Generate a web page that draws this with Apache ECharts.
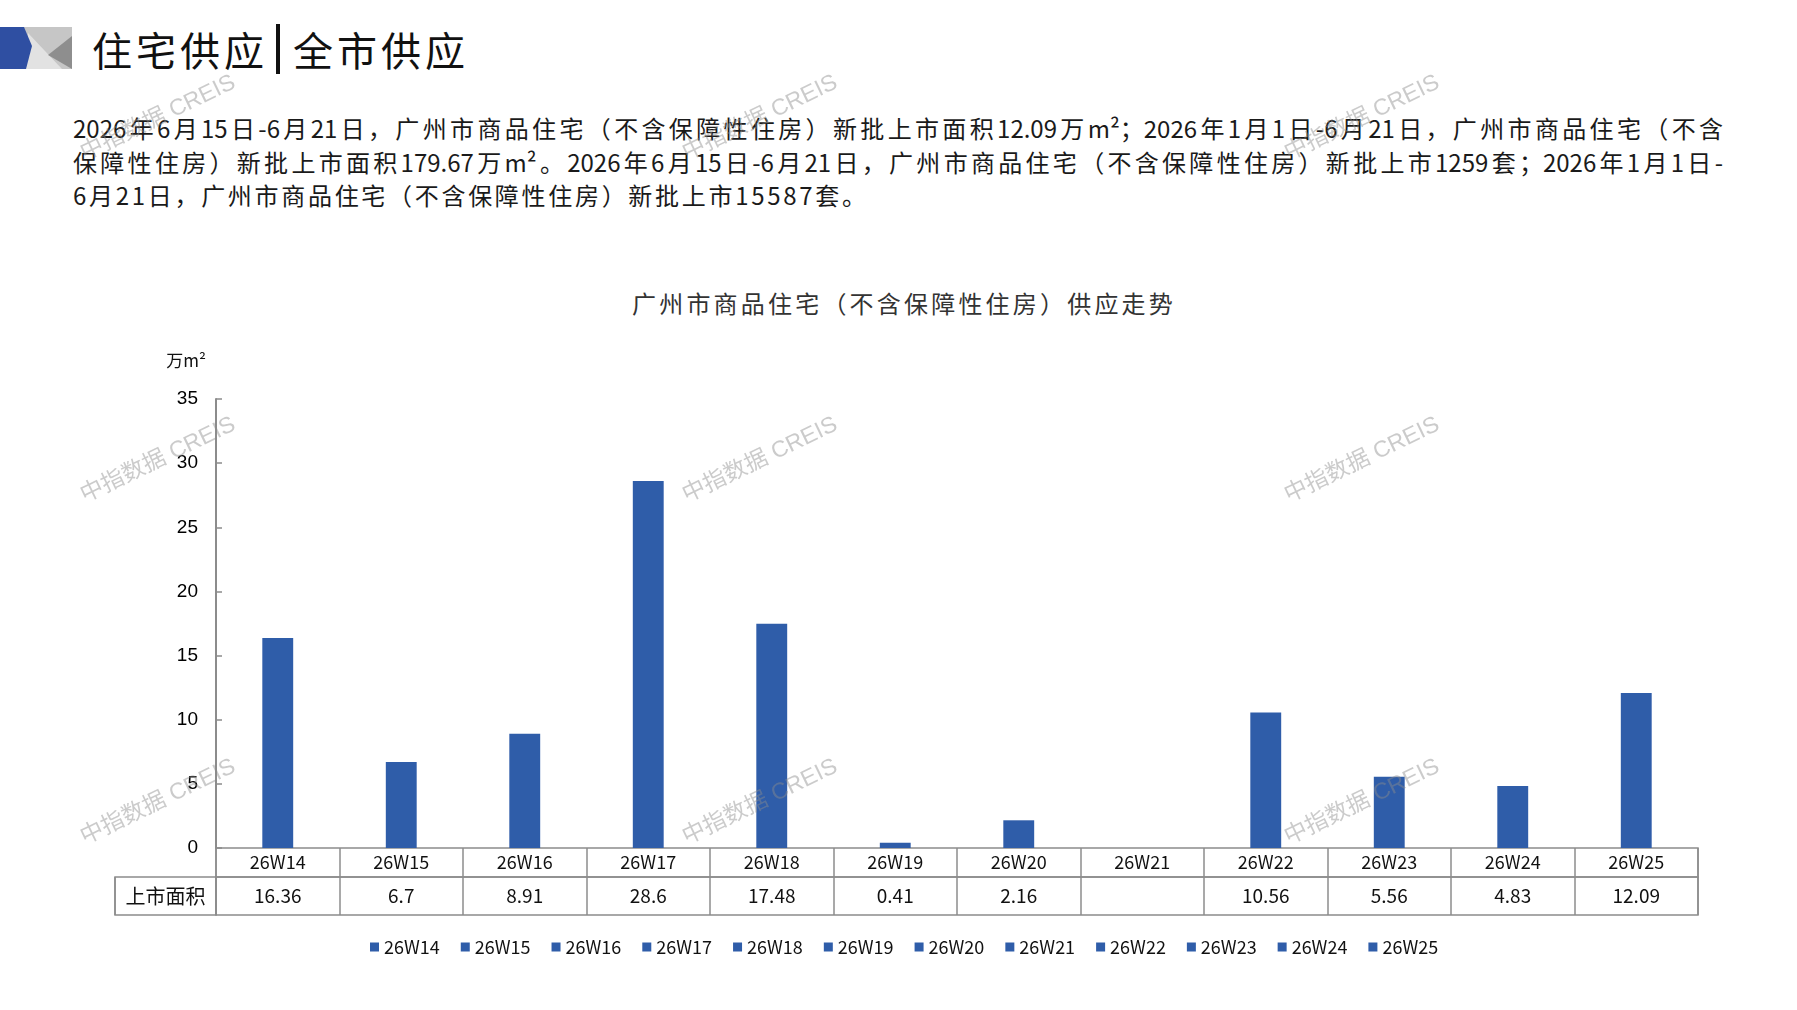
<!DOCTYPE html>
<html>
<head>
<meta charset="utf-8">
<title>住宅供应|全市供应</title>
<script src="https://cdn.jsdelivr.net/npm/echarts@6/dist/echarts.min.js"></script>
<style>
  html, body { margin: 0; padding: 0; background: #fff; }
  body { width: 1797px; height: 1010px; position: relative; overflow: hidden;
         font-family: "Noto Sans CJK SC", "Noto Sans", sans-serif; color: #1a1a1a; }
  #head { position: absolute; left: 92px; top: 24px; height: 50px; line-height: 50px;
          font-size: 40px; letter-spacing: 4px; color: #111; white-space: nowrap; z-index: 1; }
  #head .bar { display: inline-block; width: 4px; height: 50px; background: #111;
               vertical-align: top; margin: 0 13px 0 8px; }
  .line { position: absolute; left: 73px; width: 1650px; font-size: 24px; line-height: 34px;
          height: 34px; overflow: hidden; z-index: 1; }
  .just { text-align: justify; text-align-last: justify; }
  .last { letter-spacing: 2.7px; }
  #ctitle { position: absolute; left: 904px; top: 287px; transform: translateX(-50%);
            font-size: 24px; line-height: 32px; letter-spacing: 3.2px; color: #333;
            white-space: nowrap; z-index: 1; }
  #chart { position: absolute; left: 0; top: 0; width: 1797px; height: 1010px; z-index: 2; }
</style>
</head>
<body>
<div id="head">住宅供应<span class="bar"></span>全市供应</div>
<div class="line just" style="top:111px">2026年6月15日-6月21日，广州市商品住宅（不含保障性住房）新批上市面积12.09万m²；2026年1月1日-6月21日，广州市商品住宅（不含</div>
<div class="line just" style="top:145px">保障性住房）新批上市面积179.67万m²。2026年6月15日-6月21日，广州市商品住宅（不含保障性住房）新批上市1259套；2026年1月1日-</div>
<div class="line last" style="top:178px">6月21日，广州市商品住宅（不含保障性住房）新批上市15587套。</div>
<div id="ctitle">广州市商品住宅（不含保障性住房）供应走势</div>
<div id="chart"></div>
<script>
// 周次
var categories = ['26W14', '26W15', '26W16', '26W17', '26W18', '26W19',
                  '26W20', '26W21', '26W22', '26W23', '26W24', '26W25'];
// 上市面积（万m²），26W21 无数据
var areaValues = [16.36, 6.7, 8.91, 28.6, 17.48, 0.41, 2.16, null, 10.56, 5.56, 4.83, 12.09];
var rowLabel = '上市面积';
var yUnit = '万m²';

var barColor = '#2f5da9';
var lineColor = '#8c8c8c';
var cjk = '"Noto Sans CJK SC", "Noto Sans", sans-serif';

var chart = echarts.init(document.getElementById('chart'));

// 每周一个系列，这样图例能列出每个周次
var series = categories.map(function (name, i) {
  return {
    name: name,
    type: 'bar',
    stack: 'week',
    xAxisIndex: 0,
    yAxisIndex: 0,
    barWidth: '25%',
    itemStyle: { color: barColor },
    data: categories.map(function (c, j) {
      return (j === i && areaValues[i] != null) ? areaValues[i] : '-';
    })
  };
});

// 表格行的坐标轴
function tableAxis(grid, data, size, margin, formatter) {
  return {
    gridIndex: grid,
    type: 'category',
    data: data,
    axisLine: { show: false },
    axisTick: { show: false },
    splitLine: { show: true, interval: 0, lineStyle: { color: lineColor, width: 1.5 } },
    axisLabel: {
      inside: true, interval: 0, margin: margin, verticalAlign: 'middle',
      fontSize: size, color: '#111', fontFamily: cjk,
      formatter: formatter
    }
  };
}

var cellBorder = { show: true, borderColor: lineColor, borderWidth: 1.5 };

// 水印
var wmCols = [158, 760, 1362];
var wmRows = [118, 460, 802];
var graphics = [
  { type: 'polygon', z: 1, shape: { points: [[24, 27], [72, 27], [72, 69], [24, 69]] }, style: { fill: '#c6c6c6' } },
  { type: 'polygon', z: 2, shape: { points: [[28, 33], [62, 69], [26, 69]] }, style: { fill: '#e2e2e2' } },
  { type: 'polygon', z: 2, shape: { points: [[72, 36], [72, 69], [48, 55]] }, style: { fill: '#8e8e8e' } },
  { type: 'polygon', z: 3, shape: { points: [[0, 27], [24, 27], [32, 46], [26, 69], [0, 69]] }, style: { fill: '#2f4fa2' } }
];
wmRows.forEach(function (y) {
  wmCols.forEach(function (x) {
    graphics.push({
      type: 'text', x: x, y: y, rotation: 0.45, z: 100, zlevel: 1, silent: true,
      style: {
        text: '中指数据 CREIS', x: 0, y: 0,
        textAlign: 'center', textVerticalAlign: 'middle', align: 'center', verticalAlign: 'middle',
        fill: 'rgba(140,140,140,0.45)',
        font: '23px "Liberation Sans", "Noto Sans CJK SC", sans-serif'
      }
    });
  });
});

var option = {
  backgroundColor: 'transparent',
  animation: false,
  graphic: graphics,
  legend: {
    data: categories,
    left: 370,
    top: 938,
    padding: 0,
    icon: 'rect',
    itemWidth: 9,
    itemHeight: 9,
    itemGap: 21,
    textStyle: { fontSize: 18, color: '#111', fontFamily: cjk }
  },
  grid: [
    { left: 216, right: 99, top: 399, height: 449 },
    Object.assign({ left: 216, right: 99, top: 848, height: 29 }, cellBorder),
    Object.assign({ left: 216, right: 99, top: 877, height: 38 }, cellBorder),
    Object.assign({ left: 115, width: 101, top: 877, height: 38 }, cellBorder)
  ],
  xAxis: [
    { gridIndex: 0, type: 'category', data: categories, show: false },
    tableAxis(1, categories, 18, 14.5),
    tableAxis(2, categories, 19, 19, function (v, i) {
      return areaValues[i] == null ? '' : String(areaValues[i]);
    }),
    tableAxis(3, [rowLabel], 20, 19)
  ],
  yAxis: [
    {
      gridIndex: 0,
      type: 'value',
      min: 0,
      max: 35,
      interval: 5,
      name: yUnit,
      nameLocation: 'end',
      nameGap: 30,
      nameTextStyle: { align: 'right', padding: [0, 10, 0, 0], fontSize: 17, color: '#111', fontFamily: cjk },
      axisLine: { show: true, lineStyle: { color: lineColor, width: 2 } },
      axisTick: { show: true, inside: true, length: 6, lineStyle: { color: lineColor, width: 1.5 } },
      axisLabel: { margin: 18, fontSize: 19, color: '#000', fontFamily: '"Liberation Sans", Arial, sans-serif' },
      splitLine: { show: false }
    },
    { gridIndex: 1, type: 'value', show: false },
    { gridIndex: 2, type: 'value', show: false },
    { gridIndex: 3, type: 'value', show: false }
  ],
  series: series
};

chart.setOption(option);
</script>
</body>
</html>
